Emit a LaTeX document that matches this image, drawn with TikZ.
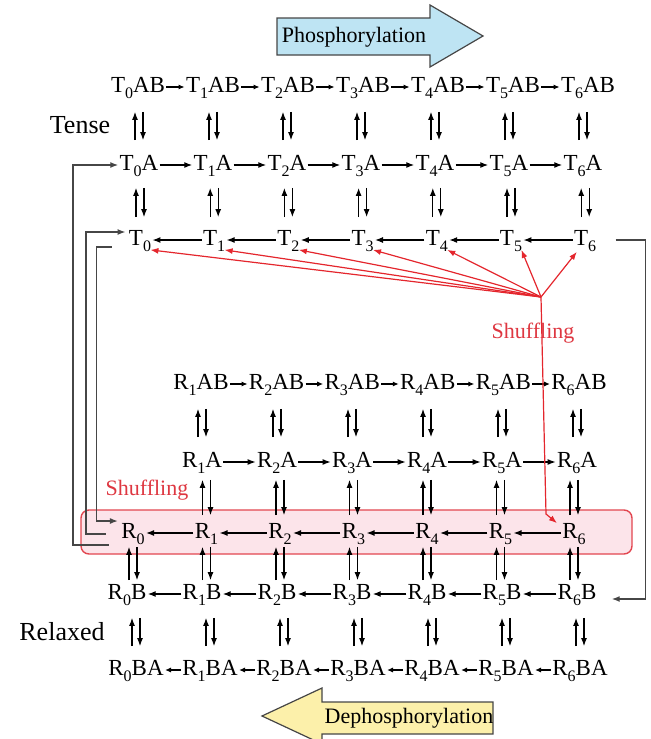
\documentclass[tikz,border=0pt]{standalone}
\usepackage{fontspec}
\setmainfont{Liberation Serif}
\usetikzlibrary{arrows.meta}
\definecolor{shufred}{RGB}{228,38,45}
\definecolor{shuftext}{RGB}{222,55,65}
\definecolor{boxfill}{RGB}{252,228,234}
\definecolor{boxdraw}{RGB}{226,70,80}
\definecolor{phosfill}{RGB}{190,228,243}
\definecolor{dephosfill}{RGB}{252,240,170}
\definecolor{lineg}{RGB}{70,70,70}
\newcommand\labfont{\fontsize{11.5}{13}\selectfont}
\newcommand\sbs[1]{\raisebox{-0.28em}{\fontsize{8}{8}\selectfont #1}}
% #1 upper node, #2 lower node, #3 shortening, #4 node giving the x position
\newcommand\updown[4]{%
  \draw[ar, shorten <=#3, shorten >=#3] ([xshift=-2pt]#4.center |- #2.north) -- ([xshift=-2pt]#4.center |- #1.south);
  \draw[ar, shorten <=#3, shorten >=#3] ([xshift=2pt]#4.center |- #1.south) -- ([xshift=2pt]#4.center |- #2.north);}
\begin{document}
\begin{tikzpicture}[x=0.5pt,y=-0.5pt,
  lab/.style={inner sep=0.5pt, font=\labfont, text height=8pt, text depth=2.5pt},
  ar/.style={line width=0.6pt, -{Latex[length=4pt,width=3pt]}},
  sar/.style={line width=0.6pt, -{Latex[length=3pt,width=2.6pt]}},
  brk/.style={draw=lineg, line width=0.7pt, -{Latex[length=4pt,width=3pt]}},
  redln/.style={draw=shufred, line width=0.6pt, -{Latex[length=4pt,width=3pt]}},
  shuf/.style={font=\fontsize{11}{12}\selectfont, text=shuftext, inner sep=0pt},
  side/.style={font=\fontsize{13}{14}\selectfont, inner sep=0pt},
  bigarrow/.style={draw=lineg, line width=0.6pt},
  bigtext/.style={font=\fontsize{11}{13}\selectfont, inner sep=0pt}
]
\useasboundingbox (0,0) rectangle (650,739);

% highlight box
\draw[fill=boxfill, draw=boxdraw, line width=0.7pt, rounded corners=4pt] (81,510) rectangle (632,554);

% phosphorylation arrows
\filldraw[bigarrow, fill=phosfill] (277,18) -- (430,18) -- (430,5) -- (483,36) -- (430,67) -- (430,55) -- (277,55) -- cycle;
\node[bigtext] (phos) at (354,37) {Phosphorylation};
\begin{scope}
\clip (0,0) rectangle (650,739);
\filldraw[bigarrow, fill=dephosfill] (493,702) -- (322,702) -- (322,688) -- (262,716) -- (322,744) -- (322,734) -- (493,734) -- cycle;
\end{scope}
\node[bigtext] (dephos) at (409,718) {Dephosphorylation};

\node[side] (tense) at (80,125) {Tense};
\node[side] (relaxed) at (62,632) {Relaxed};

% nodes
\foreach \i in {0,...,6} {
  \node[lab] (TAB\i) at ({138+75*\i},87) {T\sbs{\i}AB};
  \node[lab] (TA\i) at ({139+74*\i},165) {T\sbs{\i}A};
  \node[lab] (T\i) at ({140+74.2*\i},240) {T\sbs{\i}};
  \node[lab] (R\i) at ({133+73.5*\i},533) {R\sbs{\i}};
  \node[lab] (RB\i) at ({127+75*\i},594) {R\sbs{\i}B};
  \node[lab] (RBA\i) at ({136+74*\i},670) {R\sbs{\i}BA};
}
\foreach \i in {1,...,6} {
  \node[lab] (RAB\i) at ({201+75.6*(\i-1)},384) {R\sbs{\i}AB};
  \node[lab] (RA\i) at ({202+75*(\i-1)},462) {R\sbs{\i}A};
}

% horizontal arrows
\foreach \i in {0,...,5} {
  \pgfmathtruncatemacro\j{\i+1}
  \draw[sar] (TAB\i) -- (TAB\j);
  \draw[ar] (TA\i) -- (TA\j);
  \draw[ar] (T\j) -- (T\i);
  \draw[ar] (R\j) -- (R\i);
  \draw[ar] (RB\j) -- (RB\i);
  \draw[sar] (RBA\j) -- (RBA\i);
}
\foreach \i in {1,...,5} {
  \pgfmathtruncatemacro\j{\i+1}
  \draw[sar] (RAB\i) -- (RAB\j);
  \draw[ar] (RA\i) -- (RA\j);
}

% vertical double arrows
\foreach \i in {0,...,6} {
  \updown{TAB\i}{TA\i}{6.5pt}{TA\i}
  \updown{TA\i}{T\i}{5.5pt}{T\i}
  \updown{R\i}{RB\i}{1pt}{R\i}
  \updown{RB\i}{RBA\i}{6pt}{RBA\i}
}
\foreach \i in {1,...,6} {
  \updown{RAB\i}{RA\i}{6.5pt}{RA\i}
  \updown{RA\i}{R\i}{3pt}{R\i}
}

% left brackets
\draw[brk, shorten <=5.5pt] ([yshift=-6pt]R0.west) -- ++(-23.5pt,0) |- (TA0.west);
\draw[brk, shorten <=7pt, shorten >=1pt] ([yshift=-0.5pt]R0.west) -- ++(-17pt,0) |- ([yshift=4pt]T0.west);
\draw[brk, shorten <=8pt, shorten >=1pt] ([yshift=-3.5pt]T0.west) -- ++(-15.5pt,0) |- ([yshift=6pt]R0.west);
% right bracket
\draw[brk, shorten <=9pt, shorten >=7pt] (T6.east) -- ++(24pt,0) |- ([yshift=-2.5pt]RB6.east);

% shuffling
\coordinate (F) at (541,297);
\coordinate (Fb) at (546,514);
\foreach \i in {0,...,5} {
  \draw[redln] (F) -- ([xshift=-1pt,yshift=1pt]T\i.south east);
}
\draw[redln] (F) -- ([xshift=2pt]T6.south west);
\draw[redln] (F) -- (Fb) -- ([xshift=-2pt,yshift=-1pt]R6.north west);
\node[shuf] (sh1) at (533,333) {Shuffling};
\node[shuf] (sh2) at (147,490) {Shuffling};
\end{tikzpicture}
\end{document}
